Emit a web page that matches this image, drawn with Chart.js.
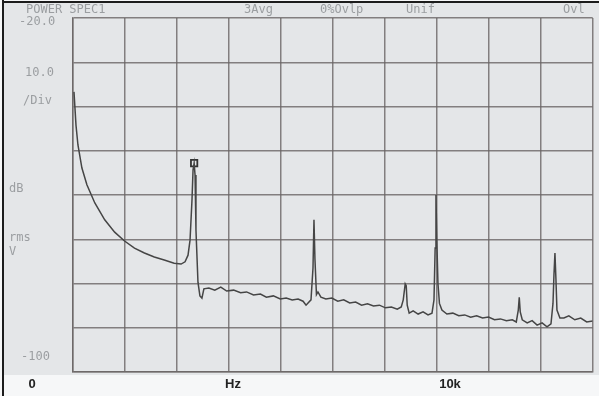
<!DOCTYPE html>
<html>
<head>
<meta charset="utf-8">
<script src="https://cdn.jsdelivr.net/npm/chart.js@4/dist/chart.umd.min.js"></script>
<style>
  html, body { margin: 0; padding: 0; background: #f6f7f8; }
  #wrap { width: 599px; height: 396px; position: relative; }
</style>
</head>
<body>
<div id="wrap"><canvas id="spec"></canvas></div>
<script>
// frequency axis: 10 divisions, 10k sits on division 7
const DIV_HZ = 10000 / 7;
const X_MAX = DIV_HZ * 10;
const Y_MIN = -100, Y_MAX = -20, Y_STEP = 10;

// trace (Hz / dB rms)
const freqHz = [
  27, 82, 136, 245, 382, 600, 872, 1145, 1417, 1690, 1963, 2235, 2508, 2781, 2971, 3080, 3162, 3217, 3271, 3300,
  3330, 3355, 3380, 3435, 3489, 3544, 3598, 3735, 3898, 4062, 4225, 4416, 4607, 4771, 4962, 5152, 5316, 5507, 5698, 5861,
  6025, 6188, 6324, 6406, 6461, 6542, 6597, 6624, 6651, 6692, 6733, 6815, 6951, 7115, 7278, 7442, 7606, 7769, 7933, 8096,
  8260, 8423, 8587, 8751, 8914, 9023, 9078, 9132, 9160, 9187, 9241, 9350, 9487, 9623, 9759, 9868, 9923, 9955, 9977, 10000,
  10032, 10073, 10141, 10277, 10441, 10604, 10768, 10931, 11095, 11258, 11422, 11586, 11749, 11913, 12076, 12185, 12240, 12267, 12294, 12349,
  12485, 12621, 12758, 12894, 13030, 13139, 13194, 13221, 13248, 13275, 13303, 13385, 13494, 13630, 13794, 13957, 14121, 14284
];
const levelDb = [
  -36.7, -44.2, -48.7, -53.9, -57.7, -61.8, -65.6, -68.4, -70.4, -72.0, -73.1, -74.0, -74.7, -75.4, -75.6, -75.1, -73.6, -70.2, -61.1, -54.3,
  -52.8, -55.5, -67.9, -79.7, -82.8, -83.3, -81.2, -81.0, -81.5, -80.8, -81.7, -81.5, -82.1, -81.9, -82.6, -82.4, -83.1, -82.8, -83.5, -83.3,
  -83.7, -83.5, -84.0, -84.9, -84.4, -83.7, -76.5, -65.6, -74.5, -82.5, -81.9, -83.1, -83.5, -83.3, -84.0, -83.7, -84.4, -84.2, -84.9, -84.6,
  -85.1, -84.9, -85.5, -85.3, -85.8, -85.3, -83.7, -80.1, -80.5, -84.9, -86.7, -86.2, -86.9, -86.4, -87.1, -86.7, -83.7, -72.0, -60.0, -70.0,
  -80.0, -84.5, -86.0, -86.9, -86.7, -87.3, -87.1, -87.6, -87.3, -87.8, -87.6, -88.2, -88.0, -88.4, -88.2, -88.7, -86.0, -83.1, -86.4, -88.2,
  -88.9, -88.4, -89.4, -88.9, -89.8, -89.1, -84.5, -78.0, -73.1, -79.0, -86.0, -87.8, -87.8, -87.3, -88.2, -87.8, -88.7, -88.5
];
// marker box on the fundamental
const markerHz = [3330];
const markerDb = [-52.8];

const headerTexts = ['POWER SPEC1', '3Avg', '0%Ovlp', 'Unif', 'Ovl'];
const sideTexts = ['-20.0', '10.0', '/Div', 'dB', 'rms', 'V', '-100'];
const bottomTexts = ['0', 'Hz', '10k'];

const toPoints = (xs, ys) => xs.map((x, i) => ({ x: x, y: ys[i] }));

const screenPlugin = {
  id: 'screen',
  beforeDraw(chart) {
    const c = chart.ctx;
    c.save();
    c.fillStyle = '#f6f7f8';
    c.fillRect(0, 0, chart.width, chart.height);
    c.fillStyle = '#e4e6e8';
    c.fillRect(4, 3, chart.width - 4, 372);
    c.fillStyle = '#1c1c1c';
    c.fillRect(2, 0, 2, chart.height);
    c.fillRect(2, 1, chart.width, 2);
    c.restore();
  },
  afterDraw(chart) {
    const c = chart.ctx;
    c.save();
    c.fillStyle = '#9b9ea1';
    c.font = '12px "DejaVu Sans Mono"';
    c.textBaseline = 'middle';
    c.textAlign = 'left';
    const hx = [26, 244, 320, 406, 563];
    headerTexts.forEach((t, i) => c.fillText(t, hx[i], 10));
    const sx = [19, 25, 23, 9, 9, 9, 21];
    const sy = [22, 73, 101, 189, 238, 252, 357];
    sideTexts.forEach((t, i) => c.fillText(t, sx[i], sy[i]));

    c.fillStyle = '#222';
    c.font = 'bold 13px "Liberation Sans"';
    c.textAlign = 'center';
    const bx = [32, 233, 450];
    bottomTexts.forEach((t, i) => c.fillText(t, bx[i], 384));
    c.restore();
  }
};

const gridColor = 'rgba(105,100,100,0.8)';

new Chart(document.getElementById('spec'), {
  type: 'line',
  data: {
    datasets: [
      {
        label: 'trace',
        data: toPoints(freqHz, levelDb),
        borderColor: '#454545',
        borderWidth: 1.5,
        pointRadius: 0,
        tension: 0,
        fill: false
      },
      {
        label: 'marker',
        data: toPoints(markerHz, markerDb),
        showLine: false,
        pointStyle: 'rect',
        pointRadius: 4.5,
        borderColor: '#333',
        borderWidth: 1.8,
        backgroundColor: 'rgba(0,0,0,0)'
      }
    ]
  },
  options: {
    responsive: true,
    maintainAspectRatio: false,
    animation: false,
    layout: { padding: { left: 73, top: 18, right: 2, bottom: 24 } },
    plugins: {
      legend: { display: false },
      tooltip: { enabled: false }
    },
    scales: {
      x: {
        type: 'linear',
        min: 0,
        max: X_MAX,
        afterBuildTicks: axis => {
          axis.ticks = Array.from({ length: 11 }, (_, i) => ({ value: i * DIV_HZ }));
        },
        ticks: { display: false },
        grid: { color: gridColor, lineWidth: 1.5, drawTicks: false },
        border: { display: true, color: gridColor, width: 1.5 }
      },
      y: {
        min: Y_MIN,
        max: Y_MAX,
        ticks: { display: false, stepSize: Y_STEP },
        grid: { color: gridColor, lineWidth: 1.5, drawTicks: false },
        border: { display: true, color: gridColor, width: 1.5 }
      }
    }
  },
  plugins: [screenPlugin]
});
</script>
</body>
</html>
